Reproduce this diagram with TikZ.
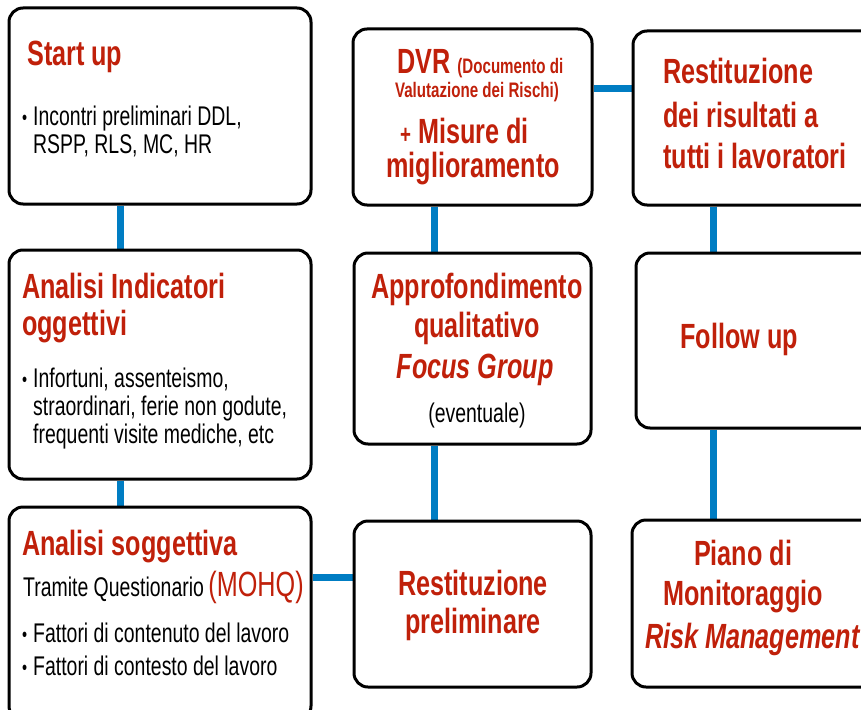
\documentclass[tikz,border=0pt]{standalone}
\usepackage{fontspec}
\setmainfont{Liberation Sans}[FakeStretch=0.72]
\usepackage{tikz}
\usetikzlibrary{backgrounds}
\usetikzlibrary{positioning}
\definecolor{titlered}{RGB}{192,32,10}
\definecolor{linkblue}{RGB}{0,125,195}
\tikzstyle{stage}=[rectangle,rounded corners=14pt,draw=black,line width=3pt,fill=white,inner sep=0pt]
\tikzstyle{link}=[draw=linkblue,line width=7pt]
\tikzstyle{head}=[anchor=base west,inner sep=0pt,text=titlered,font=\fontsize{35}{38}\selectfont\bfseries]
\tikzstyle{body}=[anchor=base west,inner sep=0pt,font=\fontsize{27}{30}\selectfont]
\newcommand \blt {\makebox[11pt][l]{\fontsize{20}{20}\selectfont\raisebox{1pt}{\textbullet}}}

\begin{document}
\begin{tikzpicture}[x=1pt,y=-1pt]
      \useasboundingbox (0,0) rectangle (861,709);
      \clip (0,0) rectangle (861,709);
      % left column
      \node[stage, minimum width=302pt, minimum height=196pt] at (160,106) (start) {};
      \node[stage, minimum width=302pt, minimum height=229pt] at (160,364.5) (indic) {};
      \node[stage, minimum width=302pt, minimum height=213pt] at (160,613.5) (sogg) {};
      % middle column
      \node[stage, minimum width=239pt, minimum height=176pt] at (472.5,117) (dvr) {};
      \node[stage, minimum width=237pt, minimum height=191pt] at (472.5,348.5) (appr) {};
      \node[stage, minimum width=237pt, minimum height=166pt] at (472.5,604) (restprel) {};
      % right column
      \node[stage, minimum width=247pt, minimum height=174pt] at (756.5,118) (restit) {};
      \node[stage, minimum width=244pt, minimum height=175pt] at (758,340.5) (follow) {};
      \node[stage, minimum width=248pt, minimum height=167pt] at (756,603.5) (piano) {};
      \begin{scope}[on background layer]
        \draw[link] ([xshift=-40pt]start.south) -- ([xshift=-40pt]indic.north);
        \draw[link] ([xshift=-40pt]indic.south) -- ([xshift=-40pt]sogg.north);
        \draw[link] ([yshift=36.5pt]sogg.east) -- ([yshift=27pt]restprel.west);
        \draw[link] ([xshift=-38pt]dvr.south) -- ([xshift=-38pt]appr.north);
        \draw[link] ([xshift=-38pt]appr.south) -- ([xshift=-38pt]restprel.north);
        \draw[link] ([yshift=29pt]dvr.east) -- ([yshift=30pt]restit.west);
        \draw[link] ([xshift=-43.5pt]restit.south) -- ([xshift=-45pt]follow.north);
        \draw[link] ([xshift=-45pt]follow.south) -- ([xshift=-43pt]piano.north);
      \end{scope}
      % texts
      \node[head] at (27,65) (su) {Start up};
      \node[body] at (22,125) (su1) {\blt Incontri preliminari DDL,};
      \node[body] at (33,153) (su2) {RSPP, RLS, MC, HR};
      \node[head] at (22,298) (in1) {Analisi Indicatori};
      \node[head] at (22,335) (in2) {oggettivi};
      \node[body] at (22,387) (in3) {\blt Infortuni, assenteismo,};
      \node[body] at (33,415) (in4) {straordinari, ferie non godute,};
      \node[body] at (33,443) (in5) {frequenti visite mediche, etc};
      \node[head] at (22,555) (so1) {Analisi soggettiva};
      \node[body] at (23,596) (so2) {Tramite Questionario\,{\color{titlered}\fontsize{35}{38}\selectfont(MOHQ)}};
      \node[body] at (22,642) (so3) {\blt Fattori di contenuto del lavoro};
      \node[body] at (22,675) (so4) {\blt Fattori di contesto del lavoro};
      \node[head] at (397,73) (dv1) {DVR {\fontsize{21}{24}\selectfont(Documento di}};
      \node[head, anchor=base, font=\fontsize{21}{24}\selectfont\bfseries] at (477,97) (dv2) {Valutazione dei Rischi)};
      \node[head] at (400,143) (dv3) {{\fontsize{26}{26}\selectfont+} Misure di};
      \node[head, anchor=base] at (473,177) (dv4) {miglioramento};
      \node[head] at (663,83) (re1) {Restituzione};
      \node[head] at (663,127) (re2) {dei risultati a};
      \node[head] at (663,168) (re3) {tutti i lavoratori};
      \node[head, anchor=base] at (477,298) (ap1) {Approfondimento};
      \node[head, anchor=base] at (477,337) (ap2) {qualitativo};
      \node[head, anchor=base, font=\fontsize{35}{38}\selectfont\bfseries\itshape] at (475,378) (ap3) {Focus Group};
      \node[body, anchor=base] at (477,422) (ap4) {(eventuale)};
      \node[head, anchor=base] at (473,595) (rp1) {Restituzione};
      \node[head, anchor=base] at (473,633) (rp2) {preliminare};
      \node[head] at (680,348) (fu) {Follow up};
      \node[head, anchor=base] at (743,565) (pi1) {Piano di};
      \node[head, anchor=base] at (743,605) (pi2) {Monitoraggio};
      \node[head, font=\fontsize{35}{38}\selectfont\bfseries\itshape] at (645,648) (pi3) {Risk Management};
    \end{tikzpicture}
\end{document}
